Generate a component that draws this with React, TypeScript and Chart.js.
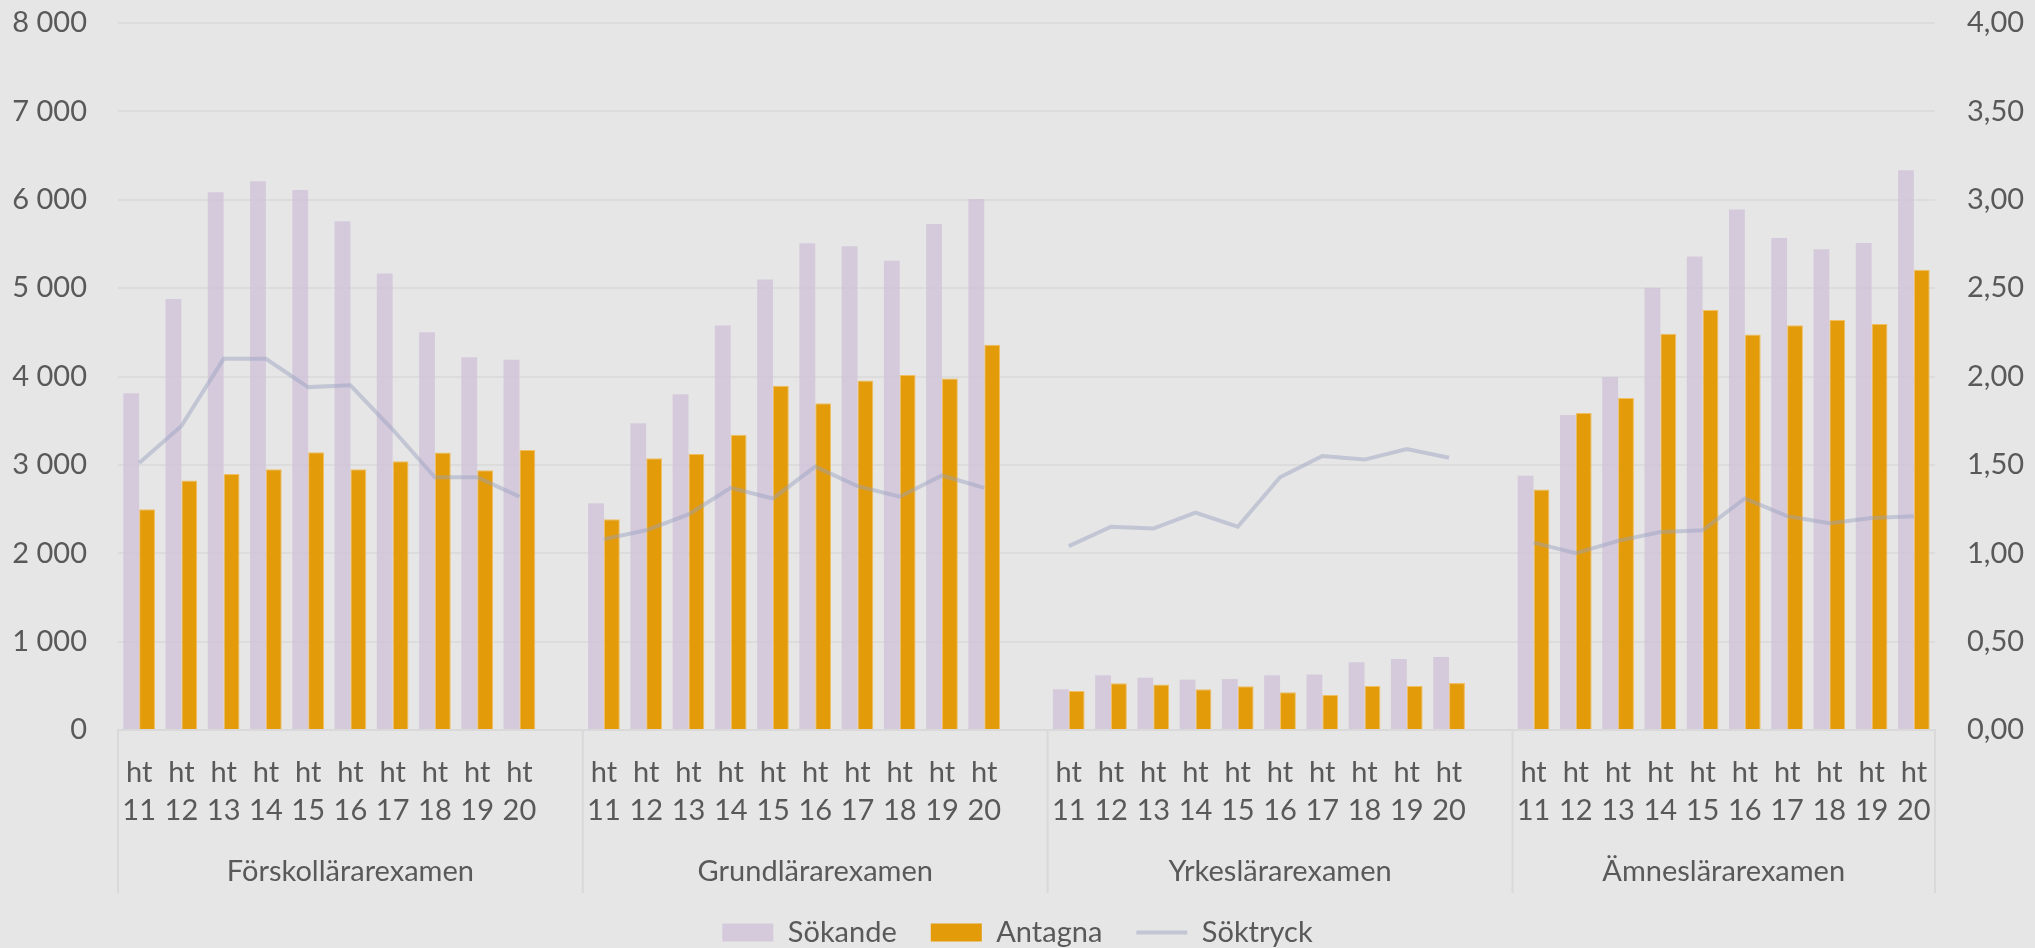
import React, { useEffect, useRef } from "react";
import { Chart, registerables } from "chart.js";

Chart.register(...registerables);

// ---- data ----
const groups = ["Förskollärarexamen", "Grundlärarexamen", "Yrkeslärarexamen", "Ämneslärarexamen"];
const tickPrefix = "ht";
const years = ["11", "12", "13", "14", "15", "16", "17", "18", "19", "20"];

const sokandeForskola = [3810, 4876, 6086, 6210, 6109, 5758, 5166, 4502, 4219, 4189];
const sokandeGrund = [2567, 3472, 3799, 4578, 5098, 5509, 5474, 5310, 5727, 6008];
const sokandeYrkes = [461, 619, 591, 570, 577, 619, 627, 768, 803, 827];
const sokandeAmnes = [2876, 3564, 3994, 5004, 5359, 5891, 5566, 5439, 5510, 6335];

const antagnaForskola = [2499, 2824, 2898, 2950, 3144, 2950, 3041, 3140, 2938, 3167];
const antagnaGrund = [2385, 3074, 3122, 3340, 3894, 3696, 3956, 4018, 3976, 4360];
const antagnaYrkes = [441, 529, 516, 461, 495, 427, 395, 499, 499, 531];
const antagnaAmnes = [2721, 3588, 3756, 4484, 4752, 4476, 4579, 4638, 4593, 5208];

const soktryckForskola = [1.51, 1.72, 2.1, 2.1, 1.94, 1.95, 1.7, 1.43, 1.43, 1.32];
const soktryckGrund = [1.08, 1.13, 1.22, 1.37, 1.31, 1.49, 1.38, 1.32, 1.44, 1.37];
const soktryckYrkes = [1.04, 1.15, 1.14, 1.23, 1.15, 1.43, 1.55, 1.53, 1.59, 1.54];
const soktryckAmnes = [1.06, 1.0, 1.07, 1.12, 1.13, 1.31, 1.21, 1.17, 1.2, 1.21];

const leftAxis = { min: 0, max: 8000, step: 1000 };
const rightAxis = { min: 0, max: 4, step: 0.5 };

// ---- build flat series (one empty slot between groups) ----
function flatten(parts: number[][]): (number | null)[] {
  const out: (number | null)[] = [];
  parts.forEach((p, i) => {
    out.push(...p);
    if (i < parts.length - 1) out.push(null);
  });
  return out;
}

const labels: (string | string[])[] = [];
groups.forEach((_, i) => {
  years.forEach((y) => labels.push([tickPrefix, y]));
  if (i < groups.length - 1) labels.push("");
});

const sokande = flatten([sokandeForskola, sokandeGrund, sokandeYrkes, sokandeAmnes]);
const antagna = flatten([antagnaForskola, antagnaGrund, antagnaYrkes, antagnaAmnes]);
const soktryck = flatten([soktryckForskola, soktryckGrund, soktryckYrkes, soktryckAmnes]);

const TEXT = "#595959";
const FONT_FAMILY = "Lato, 'Open Sans', sans-serif";
const FONT_SIZE = 29;
const font = { family: FONT_FAMILY, size: FONT_SIZE, lineHeight: 38 / 29 };
const BORDER = "#d9d9d9";
const LINE_COLOR = "rgba(150,160,190,0.45)";

const groupPlugin = {
  id: "groupLabels",
  afterDraw(chart: any) {
    const xs = chart.scales.x;
    const ctx = chart.ctx;
    const bottom = chart.chartArea.bottom;
    const slot = xs.getPixelForValue(1) - xs.getPixelForValue(0);
    const per = years.length + 1;
    ctx.save();
    ctx.strokeStyle = BORDER;
    ctx.lineWidth = 2;
    ctx.fillStyle = TEXT;
    ctx.font = `${FONT_SIZE}px ${FONT_FAMILY}`;
    ctx.textAlign = "center";
    ctx.textBaseline = "middle";
    groups.forEach((g, i) => {
      const start = i * per;
      const end = Math.min(start + per, labels.length) - 1;
      const left = xs.getPixelForValue(start) - slot / 2;
      const right = xs.getPixelForValue(end) + slot / 2;
      ctx.beginPath();
      ctx.moveTo(left, bottom);
      ctx.lineTo(left, bottom + 163);
      if (i === groups.length - 1) {
        ctx.moveTo(right, bottom);
        ctx.lineTo(right, bottom + 163);
      }
      ctx.stroke();
      ctx.fillText(g, (left + right) / 2, bottom + 142);
    });
    ctx.restore();
  },
};

function fmtThousands(v: number) {
  return String(Math.round(v)).replace(/\B(?=(\d{3})+(?!\d))/g, " ");
}

function fixWidth(w: number) {
  return (s: any) => {
    s.width = w;
    s.paddingTop = 0;
    s.paddingBottom = 0;
  };
}

export default function App() {
  const ref = useRef<HTMLCanvasElement>(null);
  useEffect(() => {
    if (!ref.current) return;
    const chart = new Chart(ref.current, {
      type: "bar",
      data: {
        labels,
        datasets: [
          {
            label: "Sökande",
            data: sokande,
            backgroundColor: "rgba(209,195,216,0.8)",
            borderWidth: 0,
            yAxisID: "y",
            order: 1,
            categoryPercentage: 0.75,
            barPercentage: 1,
          } as any,
          {
            label: "Antagna",
            data: antagna,
            backgroundColor: "#e39b0a",
            borderColor: "#f0bf62",
            borderWidth: 1,
            yAxisID: "y",
            order: 2,
            categoryPercentage: 0.75,
            barPercentage: 1,
          } as any,
          {
            type: "line",
            label: "Söktryck",
            data: soktryck,
            borderColor: LINE_COLOR,
            backgroundColor: LINE_COLOR,
            borderWidth: 4,
            pointRadius: 0,
            tension: 0,
            spanGaps: false,
            yAxisID: "y1",
            order: 0,
          } as any,
        ],
      },
      options: {
        responsive: false,
        animation: false,
        devicePixelRatio: 1,
        layout: { padding: { top: 23, left: 0, right: 0, bottom: 0 } },
        plugins: {
          tooltip: { enabled: false },
          legend: {
            position: "bottom",
            labels: {
              font,
              color: TEXT,
              usePointStyle: true,
              pointStyleWidth: 51,
              boxHeight: 18,
              padding: 34,
              sort: (a: any, b: any) => a.datasetIndex - b.datasetIndex,
              generateLabels: (c: any) =>
                Chart.defaults.plugins.legend.labels.generateLabels(c).map((l: any) => {
                  const isLine = l.datasetIndex === 2;
                  return {
                    ...l,
                    pointStyle: isLine ? "line" : "rect",
                    lineWidth: isLine ? 4 : 0,
                    strokeStyle: isLine ? LINE_COLOR : l.strokeStyle,
                  };
                }),
            },
          },
        },
        scales: {
          x: {
            grid: { display: false, drawTicks: false },
            border: { display: true, color: BORDER, width: 2 },
            ticks: { font, color: TEXT, padding: 24, maxRotation: 0, minRotation: 0, autoSkip: false },
            afterFit: (s: any) => {
              s.height = 154;
              s.paddingLeft = 0;
              s.paddingRight = 0;
            },
          },
          y: {
            position: "left",
            min: leftAxis.min,
            max: leftAxis.max,
            ticks: {
              stepSize: leftAxis.step,
              font,
              color: TEXT,
              padding: 31,
              callback: (v: any) => fmtThousands(Number(v)),
            },
            grid: { color: "#dcdcdc", lineWidth: 2, drawTicks: false },
            border: { display: false },
            afterFit: fixWidth(118),
          },
          y1: {
            position: "right",
            min: rightAxis.min,
            max: rightAxis.max,
            ticks: {
              stepSize: rightAxis.step,
              font,
              color: TEXT,
              padding: 32,
              callback: (v: any) => Number(v).toFixed(2).replace(".", ","),
            },
            grid: { display: false, drawTicks: false },
            border: { display: false },
            afterFit: fixWidth(100),
          },
        },
      } as any,
      plugins: [groupPlugin],
    });
    return () => chart.destroy();
  }, []);

  return (
    <div
      style={{
        position: "fixed",
        left: 0,
        top: 0,
        width: 2035,
        height: 948,
        overflow: "hidden",
        background: "#e6e6e6",
      }}
    >
      <canvas ref={ref} width={2035} height={957} style={{ display: "block", width: 2035, height: 957 }} />
    </div>
  );
}
